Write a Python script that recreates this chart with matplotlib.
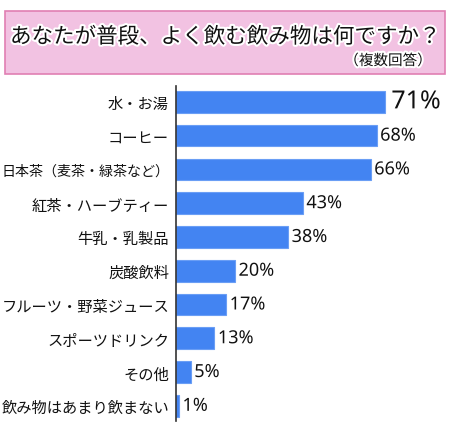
import matplotlib
matplotlib.use("Agg")
import matplotlib.pyplot as plt
import matplotlib.patheffects as pe
from matplotlib.patches import Rectangle

plt.rcParams['font.family'] = ['Noto Sans CJK JP', 'DejaVu Sans']

categories = ["水・お湯", "コーヒー", "日本茶（麦茶・緑茶など）", "紅茶・ハーブティー",
              "牛乳・乳製品", "炭酸飲料", "フルーツ・野菜ジュース", "スポーツドリンク",
              "その他", "飲み物はあまり飲まない"]
values = [71, 68, 66, 43, 38, 20, 17, 13, 5, 1]
title = "あなたが普段、よく飲む飲み物は何ですか？"
subtitle = "（複数回答）"

W, H = 452, 431
fig = plt.figure(figsize=(W / 100, H / 100), dpi=100)
fig.patch.set_facecolor("white")

# title box
box = Rectangle((5 / W, 1 - 75 / H), 440 / W, 63 / H, transform=fig.transFigure,
                facecolor="#f2c2e2", edgecolor="#e07fb3", linewidth=1.2)
fig.patches.append(box)
outline = [pe.withStroke(linewidth=3, foreground="white")]
fig.text(225 / W, 1 - 38 / H, title, ha="center", va="center", fontsize=15.5,
         color="#111111", path_effects=outline)
fig.text(432 / W, 1 - 62 / H, subtitle, ha="right", va="center", fontsize=10.5,
         color="#111111", path_effects=outline)

ax = fig.add_axes([176 / W, 1 - 422 / H, 276 / W, 335 / H])
y = list(range(len(categories)))
ax.barh(y, values, height=0.64, color="#4384f2", edgecolor="#6a9ef5", linewidth=0.8)
ax.set_xlim(0, 276 / 2.95)
ax.set_ylim(9.45, -0.47)
ax.set_yticks(y)
ax.set_yticklabels(categories, fontsize=11, color="#111111")
for lab in ax.get_yticklabels():
    n = len(lab.get_text())
    if n >= 11:
        lab.set_fontsize(min(11, 168 / n / 1.389))
ax.tick_params(axis="y", length=0, pad=5)
ax.set_xticks([])
for s in ["top", "right", "bottom"]:
    ax.spines[s].set_visible(False)
ax.spines["left"].set_color("#333333")
ax.spines["left"].set_linewidth(1.2)

for i, v in enumerate(values):
    fs = 18 if i == 0 else 13
    off = 2.0 if i == 0 else 1.2
    ax.text(v + off, i, f"{v}%", va="center", ha="left", fontsize=fs,
            family=['Noto Sans', 'DejaVu Sans'], color="#111111",
            fontweight="medium" if i == 0 else "normal",
            path_effects=outline)

fig.savefig("out.png", dpi=100)
